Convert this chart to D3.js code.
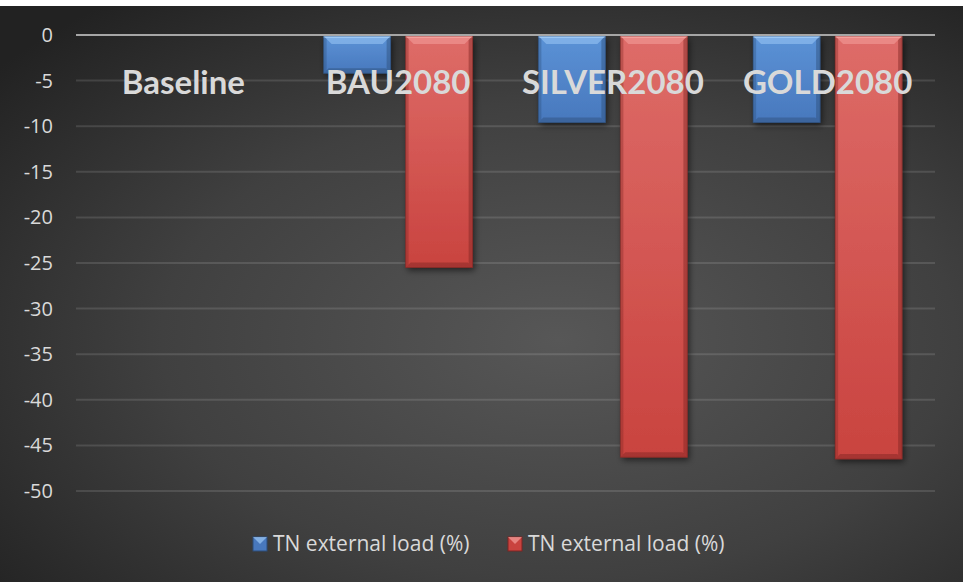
<!DOCTYPE html>
<html>
<head>
<meta charset="utf-8">
<script src="https://cdn.jsdelivr.net/npm/d3@7"></script>
<style>
  body { margin: 0; background: #fff; }
  svg { display: block; }
  text { font-family: Lato, "Open Sans", sans-serif; }
</style>
</head>
<body>
<script>
let w = 963
let h = 582

// data
let categories = ["Baseline", "BAU2080", "SILVER2080", "GOLD2080"]
let seriesNames = ["TN external load (%)", "TN external load (%)"]
let seriesA = [0, -4.2, -9.6, -9.6]
let seriesB = [0, -25.5, -46.3, -46.5]
let yTicks = [0, -5, -10, -15, -20, -25, -30, -35, -40, -45, -50]

let colors = [
  {body0: "#5b92d6", body1: "#4878bd", top: "#9cc8f5", edge: "#2c4d78"},
  {body0: "#de6c68", body1: "#c9433f", top: "#f4a09c", edge: "#7d2422"}
]

let svg = d3.select("body").append("svg")
  .attr("width", w)
  .attr("height", h)

let defs = svg.append("defs")

let bg = defs.append("radialGradient")
  .attr("id", "bg")
  .attr("cx", "58%").attr("cy", "58%").attr("r", "75%")
bg.append("stop").attr("offset", "0%").attr("stop-color", "#575757")
bg.append("stop").attr("offset", "55%").attr("stop-color", "#404040")
bg.append("stop").attr("offset", "100%").attr("stop-color", "#222222")

colors.forEach((c, i)=>{
  let g = defs.append("linearGradient")
    .attr("id", "body" + i)
    .attr("x1", 0).attr("y1", 0).attr("x2", 0).attr("y2", 1)
  g.append("stop").attr("offset", "0%").attr("stop-color", c.body0)
  g.append("stop").attr("offset", "100%").attr("stop-color", c.body1)
})

let shadow = defs.append("filter")
  .attr("id", "shadow")
  .attr("x", "-20%").attr("y", "-20%").attr("width", "150%").attr("height", "150%")
shadow.append("feDropShadow")
  .attr("dx", 2).attr("dy", 3).attr("stdDeviation", 3)
  .attr("flood-color", "#000").attr("flood-opacity", 0.55)

// chart area (white strip on top as in the picture)
svg.append("rect")
  .attr("x", 0).attr("y", 6)
  .attr("width", w).attr("height", h - 6)
  .attr("fill", "url(#bg)")

let plotLeft = 76
let plotRight = 935

let xScale = d3.scaleBand()
  .domain(categories)
  .range([plotLeft, plotRight])
  .paddingInner(0).paddingOuter(0)

let xInner = d3.scaleBand()
  .domain([0, 1])
  .range([0, xScale.bandwidth()])
  .paddingInner(0.183)
  .paddingOuter(0.401)

let yScale = d3.scaleLinear()
  .domain([0, -50])
  .range([35, 491])

// grid lines
svg.append("g")
  .selectAll("line")
  .data(yTicks.filter(d=>d !== 0))
  .enter()
  .append("line")
  .attr("x1", plotLeft).attr("x2", plotRight)
  .attr("y1", d=>yScale(d)).attr("y2", d=>yScale(d))
  .attr("stroke", "#ffffff")
  .attr("stroke-opacity", 0.12)
  .attr("stroke-width", 2)

// y axis labels (plain hyphen, like the original)
let yAxis = d3.axisLeft(yScale).tickValues(yTicks).tickSize(0).tickPadding(0)
  .tickFormat(d=>String(d))
let yg = svg.append("g")
  .attr("transform", "translate(53,0)")
  .call(yAxis)
yg.select(".domain").remove()
yg.selectAll("text")
  .attr("fill", "#d9d9d9")
  .style("font-size", "20px")
  .style("font-family", "'Open Sans', sans-serif")

// bars
let rows = []
categories.forEach((c, i)=>{
  rows.push({cat: c, s: 0, v: seriesA[i]})
  rows.push({cat: c, s: 1, v: seriesB[i]})
})

let barG = svg.append("g")

rows.filter(d=>d.v !== 0).forEach(d=>{
  let x = xScale(d.cat) + xInner(d.s)
  let bw = xInner.bandwidth()
  let y0 = yScale(0) + 1
  let y1 = yScale(d.v)
  let c = colors[d.s]
  let b = Math.min(8, (y1 - y0) / 3)
  let g = barG.append("g")

  g.append("rect")
    .attr("x", x).attr("y", y0)
    .attr("width", bw).attr("height", y1 - y0)
    .attr("fill", "url(#body" + d.s + ")")
    .attr("filter", "url(#shadow)")

  // top bevel
  g.append("path")
    .attr("d", `M${x},${y0}L${x + bw},${y0}L${x + bw - b},${y0 + b}L${x + b},${y0 + b}Z`)
    .attr("fill", c.top).attr("opacity", 0.55)
  g.append("line")
    .attr("x1", x).attr("x2", x + bw)
    .attr("y1", y0 + 1).attr("y2", y0 + 1)
    .attr("stroke", c.top).attr("stroke-width", 2)
  // side and bottom bevels
  g.append("path")
    .attr("d", `M${x},${y0}L${x + 3},${y0 + 3}L${x + 3},${y1 - 3}L${x},${y1}Z`)
    .attr("fill", c.edge).attr("opacity", 0.35)
  g.append("path")
    .attr("d", `M${x + bw},${y0}L${x + bw - 4},${y0 + 4}L${x + bw - 4},${y1 - 4}L${x + bw},${y1}Z`)
    .attr("fill", c.edge).attr("opacity", 0.45)
  g.append("path")
    .attr("d", `M${x},${y1}L${x + bw},${y1}L${x + bw - 5},${y1 - 5}L${x + 5},${y1 - 5}Z`)
    .attr("fill", c.edge).attr("opacity", 0.45)
  g.append("rect")
    .attr("x", x).attr("y", y0)
    .attr("width", bw).attr("height", y1 - y0)
    .attr("fill", "none")
    .attr("stroke", c.edge).attr("stroke-opacity", 0.6).attr("stroke-width", 1)
})

// zero line
svg.append("line")
  .attr("x1", plotLeft).attr("x2", plotRight)
  .attr("y1", yScale(0)).attr("y2", yScale(0))
  .attr("stroke", "#a6a6a6")
  .attr("stroke-width", 2)

// category labels
svg.append("g")
  .selectAll("text")
  .data(categories)
  .enter()
  .append("text")
  .attr("x", d=>xScale(d) + xScale.bandwidth() / 2)
  .attr("y", 94)
  .attr("text-anchor", "middle")
  .attr("fill", "#d9d9d9")
  .style("font-size", "33px")
  .style("font-weight", "bold")
  .text(d=>d)

// legend
let legendX = [253, 508]
let legend = svg.append("g").attr("id", "legend")
seriesNames.forEach((name, i)=>{
  let c = colors[i]
  let lx = legendX[i]
  let ly = 537
  legend.append("rect")
    .attr("x", lx).attr("y", ly)
    .attr("width", 14).attr("height", 14)
    .attr("fill", c.body1)
    .attr("stroke", c.edge).attr("stroke-width", 1)
  legend.append("path")
    .attr("d", `M${lx},${ly}L${lx + 14},${ly}L${lx + 7},${ly + 7}Z`)
    .attr("fill", c.top).attr("opacity", 0.7)
  legend.append("text")
    .attr("x", lx + 20)
    .attr("y", ly + 14)
    .attr("fill", "#d9d9d9")
    .style("font-size", "21px")
    .style("font-family", "'Open Sans', sans-serif")
    .text(name)
})
</script>
</body>
</html>
